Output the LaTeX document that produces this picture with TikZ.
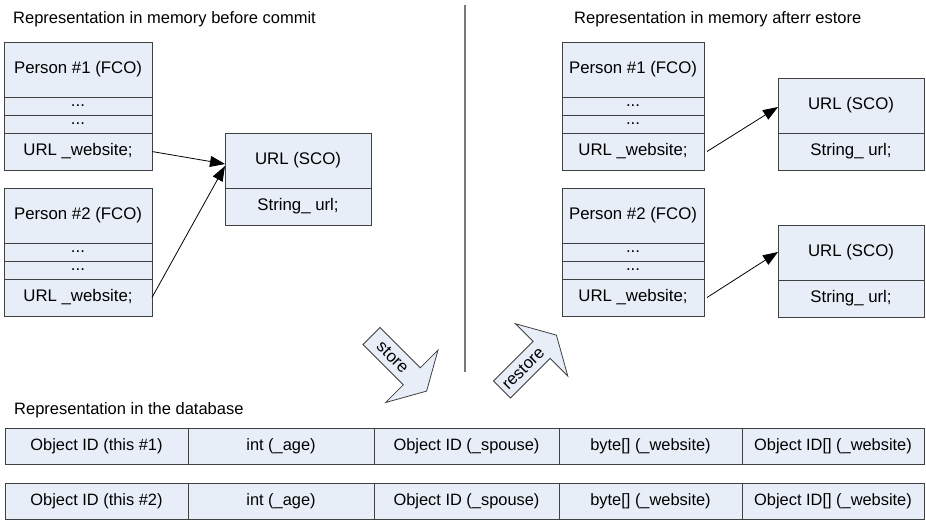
\documentclass[tikz,border=0pt]{standalone}
\usepackage{fontspec}
\setmainfont{Liberation Sans}
\usetikzlibrary{arrows.meta,calc}
\definecolor{boxfill}{RGB}{232,238,248}
\definecolor{boxline}{RGB}{64,64,64}
\definecolor{rulegray}{RGB}{120,120,120}

% one object drawn as a stack of cells: header, two elided fields, URL field
\newcommand\personbox[5]{%
  \node[cell, minimum width=#4pt, minimum height=55pt] (#1h) at (#2,#3) {#5};
  \node[cell, minimum width=#4pt, minimum height=18pt] (#1a) at (#1h.south west) {...};
  \node[cell, minimum width=#4pt, minimum height=18pt] (#1b) at (#1a.south west) {...};
  \node[cell, minimum width=#4pt, minimum height=37pt] (#1u) at (#1b.south west) {URL \_website;};
}
% a URL second-class object: header and its single string field
\newcommand\urlbox[3]{%
  \node[cell, minimum width=146pt, minimum height=55pt] (#1) at (#2,#3) {URL (SCO)};
  \node[cell, minimum width=146pt, minimum height=37pt] (#1s) at (#1.south west) {String\_ url;};
}

\begin{document}
\begin{tikzpicture}[x=1pt,y=-1pt,
  lbl/.style={font=\fontsize{16.8}{20}\selectfont},
  cell/.style={draw=boxline, fill=boxfill, line width=0.8pt, inner sep=0pt,
               outer sep=0pt, anchor=north west, lbl},
  dbcell/.style={cell, minimum height=36pt, font=\fontsize{16.4}{20}\selectfont},
  title/.style={anchor=west, inner sep=0pt, font=\fontsize{16.5}{20}\selectfont},
  link/.style={-{Triangle[length=15pt,width=11pt]}, line width=0.8pt, black},
  blockarrow/.style={draw=boxline, fill=boxfill, line width=0.8pt, line join=miter},
]
\useasboundingbox (0,0) rectangle (926,520);

% ---- before commit ----
\node[title] (tl) at (13,19) {Representation in memory before commit};
\personbox{lp}{4}{42}{148}{Person \#1 (FCO)}
\personbox{lq}{4}{188}{148}{Person \#2 (FCO)}
\urlbox{lu}{225}{133}
\draw[link] (lpu.east) -- ($(lu.north west)+(0,31)$);
\draw[link] (lqu.east) -- ($(lu.north west)+(0,33)$);

% ---- separator ----
\coordinate (sepTop) at (465,5);
\coordinate (sepBot) at (465,372);
\draw[rulegray, line width=1.4pt] (sepTop) -- (sepBot);

% ---- after restore ----
\node[title] (tr) at (574,19) {Representation in memory afterr estore};
\personbox{rp}{562}{42}{142}{Person \#1 (FCO)}
\personbox{rq}{562}{188}{142}{Person \#2 (FCO)}
\urlbox{ru}{778}{78}
\urlbox{rv}{778}{225}
\draw[link] ($(rpu.east)+(3,0)$) -- ($(ru.north west)+(0,29)$);
\draw[link] ($(rqu.east)+(3,0)$) -- ($(rv.north west)+(0,27)$);

% ---- store / restore block arrows ----
\draw[blockarrow] (380,327.5) -- (420.3,367.8) -- (438,350.1) -- (426.6,391.1)
  -- (385.6,402.5) -- (403.3,384.8) -- (363,344.5) -- cycle;
\node[lbl, rotate=-45, inner sep=0pt] (store) at (392.7,357.2) {store};
\draw[blockarrow] (493.5,381) -- (533.1,341.4) -- (515.4,323.7) -- (556.4,335.1)
  -- (567.8,376.1) -- (550.1,358.4) -- (510.5,398) -- cycle;
\node[lbl, rotate=45, inner sep=0pt] (restore) at (523.2,368.3) {restore};

% ---- database rows ----
\node[title] (tdb) at (14,410) {Representation in the database};
\foreach \r/\y/\n in {1/428/1, 2/483/2}{
  \node[dbcell, minimum width=183pt] (d\r a) at (5,\y) {Object ID (this \#\n)};
  \node[dbcell, minimum width=186pt] (d\r b) at (d\r a.north east) {int (\_age)};
  \node[dbcell, minimum width=185pt] (d\r c) at (d\r b.north east) {Object ID (\_spouse)};
  \node[dbcell, minimum width=183pt] (d\r d) at (d\r c.north east) {byte[] (\_website)};
  \node[dbcell, minimum width=182pt] (d\r e) at (d\r d.north east) {Object ID[] (\_website)};
}
\end{tikzpicture}
\end{document}
